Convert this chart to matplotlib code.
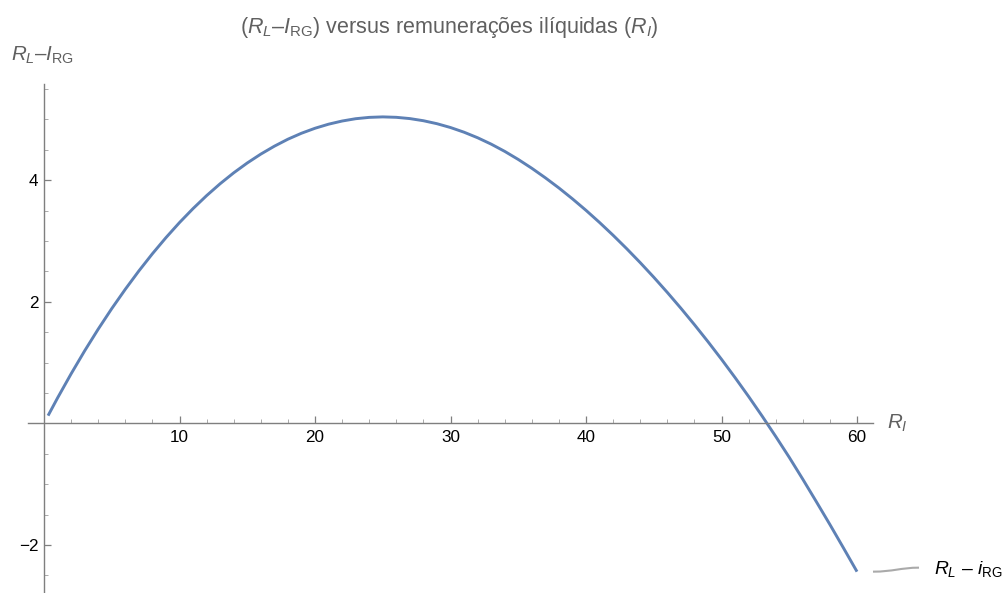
import matplotlib
matplotlib.use("Agg")
import matplotlib.pyplot as plt
from matplotlib.ticker import MultipleLocator
from matplotlib.path import Path
from matplotlib.patches import PathPatch
import matplotlib.transforms as mtransforms

plt.rcParams['font.family'] = ['Liberation Sans', 'DejaVu Sans']
plt.rcParams['mathtext.fontset'] = 'custom'
plt.rcParams['mathtext.rm'] = 'Liberation Sans'
plt.rcParams['mathtext.it'] = 'Liberation Sans:italic'
plt.rcParams['mathtext.bf'] = 'Liberation Sans:bold'

# Data
r_i = [0.3, 1, 2, 3, 4, 5, 6, 7, 8, 9, 10, 11, 12, 13, 14, 15, 16, 17, 18, 19, 20,
       21, 22, 23, 24, 25, 26, 27, 28, 29, 30, 31, 32, 33, 34, 35, 36, 37, 38, 39, 40,
       41, 42, 43, 44, 45, 46, 47, 48, 49, 50, 51, 52, 53, 54, 55, 56, 57, 58, 59, 60]
rl_minus_irg = [0.126, 0.417, 0.814, 1.192, 1.549, 1.887, 2.205, 2.506, 2.789, 3.054, 3.302,
                3.532, 3.745, 3.941, 4.120, 4.282, 4.428, 4.558, 4.673, 4.771, 4.853,
                4.920, 4.972, 5.010, 5.032, 5.040, 5.033, 5.012, 4.977, 4.928, 4.865,
                4.788, 4.697, 4.592, 4.473, 4.340, 4.195, 4.038, 3.871, 3.692, 3.503,
                3.303, 3.093, 2.873, 2.643, 2.403, 2.153, 1.893, 1.623, 1.343, 1.053,
                0.752, 0.441, 0.118, -0.216, -0.560, -0.920, -1.290, -1.665, -2.050, -2.440]
x_major = [10, 20, 30, 40, 50, 60]
y_major = [-2, 2, 4]
y_major_labels = ['−2', '2', '4']

title = r"($R_L$–$I_{\mathrm{RG}}$) versus remunerações ilíquidas ($R_I$)"
ylab = r"$R_L$–$I_{\mathrm{RG}}$"
xlab = r"$R_I$"
legend_label = r"$R_L$ – $i_{\mathrm{RG}}$"

W, H = 1004, 593
fig = plt.figure(figsize=(W / 100, H / 100), dpi=100)
# axes occupies pixel x 28..873, y 84..593
ax = fig.add_axes([28 / W, 0, 845 / W, 509 / H])
ax.set_xlim(-1.181, 61.18)
ax.set_ylim(-2.791, 5.581)

line_color = '#5E81B5'
ax.plot(r_i, rl_minus_irg, color=line_color, lw=2.1, solid_capstyle='butt',
        solid_joinstyle='round', clip_on=False)

axis_gray = '#7f7f7f'
for s in ['top', 'right']:
    ax.spines[s].set_visible(False)
ax.spines['left'].set_position(('data', 0))
ax.spines['bottom'].set_position(('data', 0))
for s in ['left', 'bottom']:
    ax.spines[s].set_color(axis_gray)
    ax.spines[s].set_linewidth(1.0)

ax.set_xticks(x_major)
ax.set_yticks(y_major)
ax.set_yticklabels(y_major_labels)
ax.xaxis.set_minor_locator(MultipleLocator(2))
ax.yaxis.set_minor_locator(MultipleLocator(0.5))
ax.tick_params(which='major', direction='in', length=5, width=0.9, color=axis_gray,
               labelsize=12.3, labelcolor='black')
ax.tick_params(which='minor', direction='in', length=3, width=0.7, color='#aaaaaa')
ax.tick_params(axis='x', which='major', pad=5)
ax.tick_params(axis='y', which='major', pad=4)
ax.patch.set_alpha(0)

# title
fig.text(449 / W, 1 - 28 / H, title, ha='center', va='center', fontsize=15.5, color='#606060')
# y axis label
fig.text(11 / W, 1 - 55 / H, ylab, ha='left', va='center', fontsize=14.8, color='#606060')
# x axis label
fig.text(887 / W, 1 - 423 / H, xlab, ha='left', va='center', fontsize=14.8, color='#606060')

# callout label near the end of the curve
trans = ax.transData
x_end, y_end = r_i[-1], rl_minus_irg[-1]
verts = [(16, 0), (36, 0), (44, 4), (62, 4)]
path = Path(verts, [Path.MOVETO, Path.CURVE4, Path.CURVE4, Path.CURVE4])
base = trans.transform((x_end, y_end))
tr = mtransforms.Affine2D().translate(base[0], base[1])
patch = PathPatch(path, transform=tr, facecolor='none', edgecolor='#aaaaaa', lw=1.5)
fig.patches.append(patch)
ax.annotate(legend_label, xy=(x_end, y_end), xytext=(77, 3), textcoords='offset pixels',
            ha='left', va='center', fontsize=13.9, color='black', annotation_clip=False)

fig.savefig('out.png', dpi=100)
